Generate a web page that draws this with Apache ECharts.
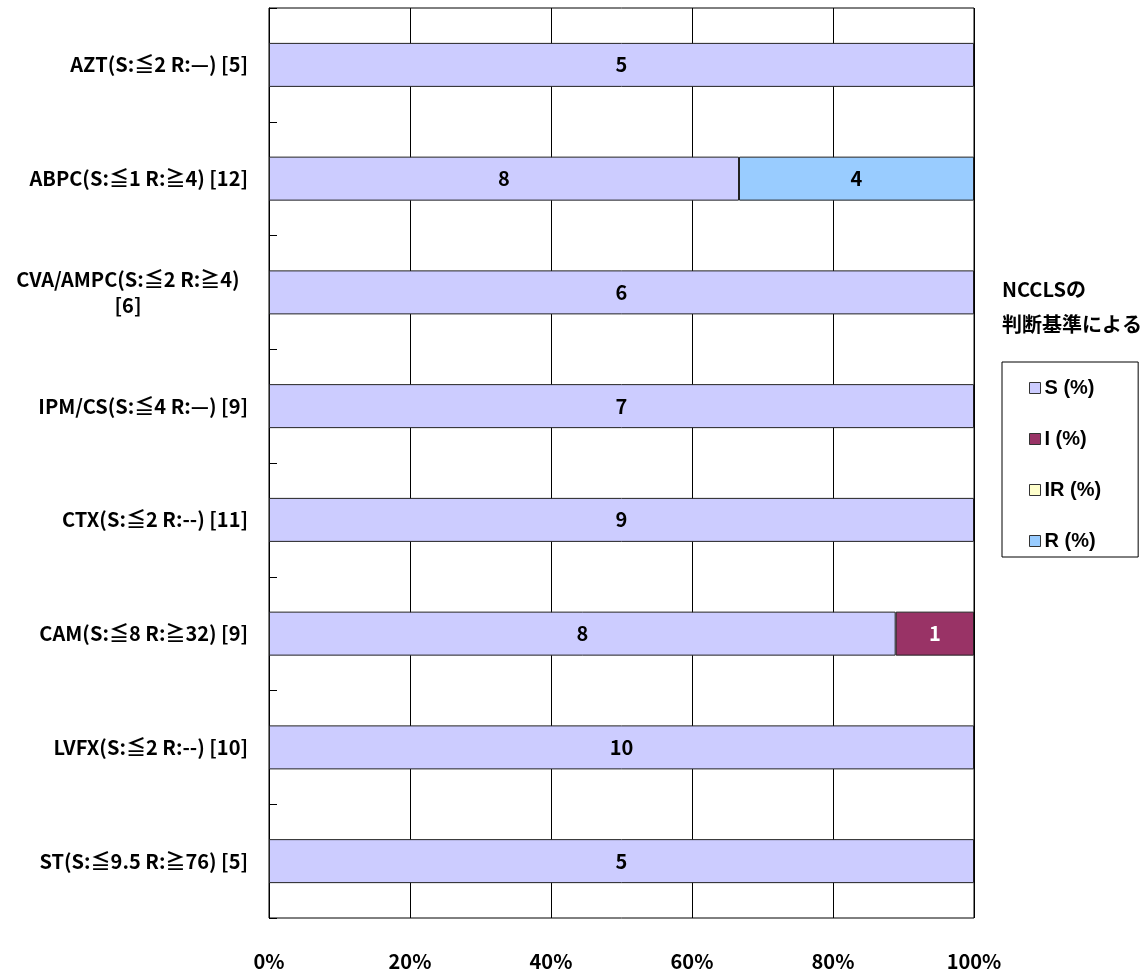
<!DOCTYPE html>
<html>
<head>
<meta charset="utf-8">
<script src="https://cdn.jsdelivr.net/npm/echarts@6/dist/echarts.min.js"></script>
<style>html,body{margin:0;padding:0;background:#fff}#c{width:1143px;height:979px}</style>
</head>
<body>
<div id="c"></div>
<script>
const categories = ['AZT(S:≦2 R:—) [5]', 'ABPC(S:≦1 R:≧4) [12]', 'CVA/AMPC(S:≦2 R:≧4)\n[6]', 'IPM/CS(S:≦4 R:—) [9]', 'CTX(S:≦2 R:--) [11]', 'CAM(S:≦8 R:≧32) [9]', 'LVFX(S:≦2 R:--) [10]', 'ST(S:≦9.5 R:≧76) [5]'];
const seriesNames = ['S (%)', 'I (%)', 'IR (%)', 'R (%)'];
const sCounts = [5, 8, 6, 7, 9, 8, 10, 5];
const iCounts = [0, 0, 0, 0, 0, 1, 0, 0];
const irCounts = [0, 0, 0, 0, 0, 0, 0, 0];
const rCounts = [0, 4, 0, 0, 0, 0, 0, 0];
const xTicks = [0, 20, 40, 60, 80, 100];
const colors = ['#CCCCFF', '#993366', '#FFFFCC', '#99CCFF'];
const labelColors = ['#000', '#fff', '#000', '#000'];

const all = [sCounts, iCounts, irCounts, rCounts];
const totals = categories.map((_, i) => all.reduce((a, arr) => a + arr[i], 0));
const FONT = "'Liberation Sans Narrow', 'Noto Sans CJK JP', 'DejaVu Sans Condensed', sans-serif";

const series = all.map((arr, k) => ({
  name: seriesNames[k],
  type: 'bar',
  stack: 'total',
  barWidth: 44,
  itemStyle: { color: colors[k], borderColor: '#222', borderWidth: 1 },
  label: {
    show: true, position: 'inside', color: labelColors[k],
    fontFamily: FONT, fontWeight: 'bold', fontSize: 20,
    formatter: p => arr[p.dataIndex] > 0 ? String(arr[p.dataIndex]) : ''
  },
  data: arr.map((v, i) => v > 0 ? v / totals[i] * 100 : null)
}));

const chart = echarts.init(document.getElementById('c'), null, { renderer: 'canvas' });
chart.setOption({
  animation: false,
  backgroundColor: '#fff',
  title: {
    text: 'NCCLSの\n判断基準による',
    left: 1002, top: 272, padding: 0,
    textStyle: { fontFamily: FONT, fontWeight: 'bold', fontSize: 20, lineHeight: 35, color: '#000' }
  },
  legend: {
    orient: 'vertical', left: 1002, top: 362,
    data: seriesNames,
    icon: 'rect', itemWidth: 11, itemHeight: 11, itemGap: 31,
    borderColor: '#000', borderWidth: 1,
    padding: [16, 37, 6, 27],
    itemStyle: { borderColor: '#333', borderWidth: 1 },
    textStyle: { fontFamily: "'Liberation Sans', Arial, sans-serif", fontWeight: 'bold', fontSize: 20, color: '#000', padding: [0, 0, 0, -1] }
  },
  grid: { left: 269, right: 169, top: 8, bottom: 61, show: true, borderColor: '#000', borderWidth: 1, containLabel: false },
  xAxis: {
    type: 'value', min: 0, max: 100, interval: 20,
    axisLine: { show: false }, axisTick: { show: false },
    splitLine: { show: true, lineStyle: { color: '#000', width: 1 } },
    axisLabel: {
      margin: 33, color: '#000', fontFamily: FONT, fontWeight: 'bold', fontSize: 20,
      formatter: v => xTicks.includes(v) ? v + '%' : ''
    }
  },
  yAxis: {
    type: 'category', inverse: true, data: categories,
    axisLine: { show: true, lineStyle: { color: '#000', width: 1 } },
    axisTick: { show: true, inside: true, length: 8, lineStyle: { color: '#000' } },
    axisLabel: {
      margin: 21, color: '#000', fontFamily: FONT, fontWeight: 'bold', fontSize: 20,
      lineHeight: 26,
      formatter: v => v.includes('\n') ? v.split('\n').map(s => '{c|' + s + '}').join('\n') : v,
      rich: { c: { width: 240, align: 'center', fontFamily: FONT, fontWeight: 'bold', fontSize: 20, lineHeight: 26, color: '#000' } }
    }
  },
  series: series
});
</script>
</body>
</html>
